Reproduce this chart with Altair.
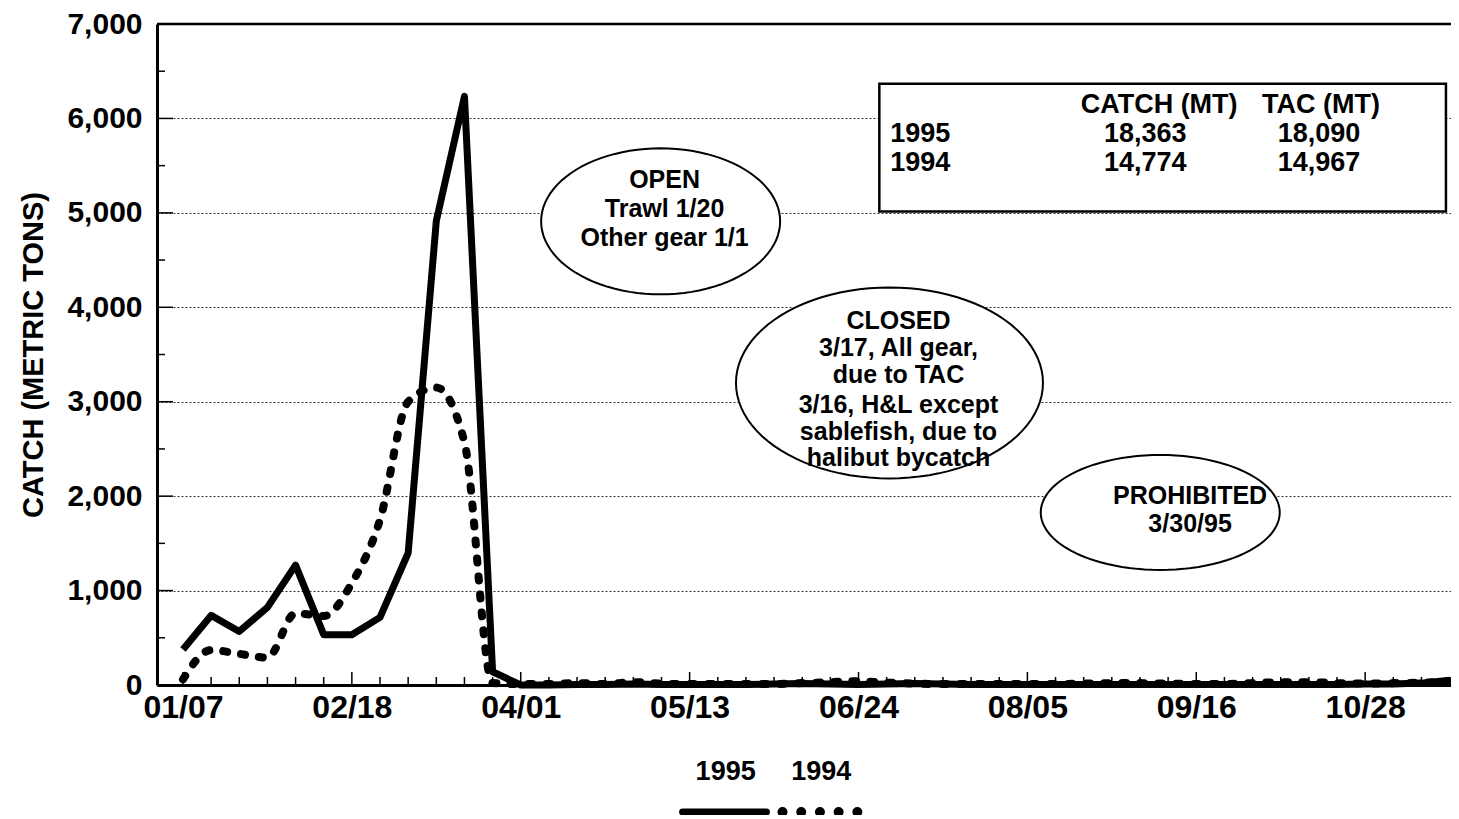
import json
import numpy as np
import pandas as pd
import altair as alt

# ---------------- data ----------------
week_dates = list(pd.date_range("1995-01-07", periods=46, freq="7D").strftime("%m/%d"))
axis_labels = ["01/07", "02/18", "04/01", "05/13", "06/24", "08/05", "09/16", "10/28"]
y_ticks = [0, 1000, 2000, 3000, 4000, 5000, 6000, 7000]
y_minor = [500, 1500, 2500, 3500, 4500, 5500, 6500]

catch_1995 = [375, 737, 567, 822, 1270, 533, 533, 716, 1398, 4913, 6233, 140,
              0, 0, 5, 5, 10, 5, 5, 5, 5, 10, 15, 10, 5, 10, 15, 10, 5, 5,
              5, 5, 5, 5, 5, 5, 5, 5, 5, 5, 5, 5, 10, 10, 20, 50]
catch_1994 = [60, 370, 330, 290, 760, 730, 1080, 1750, 3000, 3150, 2570, 20,
              10, 10, 20, 10, 30, 15, 10, 10, 10, 10, 20, 30, 40, 25, 15, 10, 10, 10,
              10, 10, 15, 20, 20, 15, 10, 10, 20, 30, 30, 20, 15, 20, 25, 40]

table_header = ["CATCH (MT)", "TAC (MT)"]
table_years = ["1995", "1994"]
table_catch = ["18,363", "14,774"]
table_tac = ["18,090", "14,967"]

open_lines = ["OPEN", "Trawl 1/20", "Other gear 1/1"]
closed_lines = ["CLOSED", "3/17, All gear,", "due to TAC", "3/16, H&L except",
                "sablefish, due to", "halibut bycatch"]
prohib_lines = ["PROHIBITED", "3/30/95"]

n = len(week_dates)
series = pd.DataFrame({
    "week": list(range(n)) * 2,
    "date": week_dates * 2,
    "series": ["1995"] * n + ["1994"] * n,
    "value": catch_1995 + catch_1994,
})

FONT = "Liberation Sans"
X_SCALE = alt.Scale(domain=[-0.923, 45.05], nice=False, zero=False)
Y_SCALE = alt.Scale(domain=[0, 7000], nice=False, zero=False)
W, H = 1294, 661

x_label_expr = json.dumps(axis_labels) + "[round(datum.value / 6)]"
x_axis = alt.Axis(values=[6 * i for i in range(len(axis_labels))], labelExpr=x_label_expr,
                  ticks=False, grid=False, domainWidth=3, domainColor="black",
                  labelFont=FONT, labelFontSize=32, labelFontWeight="bold",
                  labelColor="black", labelPadding=7, title="")
y_axis = alt.Axis(values=y_ticks, labelExpr="format(datum.value, ',')", ticks=False,
                  grid=True, gridDash=[2, 2],
                  gridColor="#333333", gridWidth=1, domainWidth=3, domainColor="black",
                  labelFont=FONT, labelFontSize=30, labelFontWeight="bold",
                  labelColor="black", labelPadding=15,
                  title="CATCH (METRIC TONS)", titleFont=FONT, titleFontSize=29,
                  titleFontWeight="bold", titleColor="black",
                  titleX=-124, titleY=H / 2, titleBaseline="middle")


def X(field="week"):
    return alt.X(f"{field}:Q", scale=X_SCALE, axis=x_axis)


def Y(field="value"):
    return alt.Y(f"{field}:Q", scale=Y_SCALE, axis=y_axis)


line95 = alt.Chart(series).transform_filter("datum.series == '1995'").mark_line(
    color="black", strokeWidth=7, strokeJoin="round"
).encode(x=X(), y=Y())

line94 = alt.Chart(series).transform_filter("datum.series == '1994'").mark_line(
    color="black", strokeWidth=8, strokeDash=[4, 14], strokeCap="round", interpolate="monotone"
).encode(x=X(), y=Y())

# top border line at 7,000
top_rule = alt.Chart(pd.DataFrame({"value": [7000]})).mark_rule(
    color="black", strokeWidth=2.5).encode(y=Y())

# inward ticks
xt = pd.DataFrame({"week": list(range(n))})
xt["major"] = xt["week"] % 6 == 0
x_minor_ticks = alt.Chart(xt[~xt["major"]]).mark_rule(color="black", strokeWidth=1.5).encode(
    x=X(), y=alt.value(H), y2=alt.value(H - 8))
x_major_ticks = alt.Chart(xt[xt["major"]]).mark_rule(color="black", strokeWidth=1.5).encode(
    x=X(), y=alt.value(H), y2=alt.value(H - 13))
y_major_ticks = alt.Chart(pd.DataFrame({"value": y_ticks[1:-1]})).mark_rule(
    color="black", strokeWidth=1.5).encode(y=Y(), x=alt.value(0), x2=alt.value(16))
y_minor_ticks = alt.Chart(pd.DataFrame({"value": y_minor})).mark_rule(
    color="black", strokeWidth=1.5).encode(y=Y(), x=alt.value(0), x2=alt.value(8))

# table box
table_box = alt.Chart(pd.DataFrame({"week": [24.74], "week2": [44.87],
                                    "value": [6367], "value2": [5015]})).mark_rect(
    fill="white", stroke="black", strokeWidth=2.5
).encode(x=X(), x2="week2:Q", y=Y(), y2="value2:Q")

table_center = pd.DataFrame({
    "week": [34.68, 40.43, 34.19, 40.36, 34.19, 40.36],
    "value": [6145, 6145, 5839, 5839, 5533, 5533],
    "text": [table_header[0], table_header[1], table_catch[0], table_tac[0],
             table_catch[1], table_tac[1]],
})
table_left = pd.DataFrame({"week": [25.13, 25.13], "value": [5839, 5533], "text": table_years})
table_text_c = alt.Chart(table_center).mark_text(
    font=FONT, fontSize=27, fontWeight="bold", align="center", baseline="middle", color="black"
).encode(x=X(), y=Y(), text="text:N")
table_text_l = alt.Chart(table_left).mark_text(
    font=FONT, fontSize=27, fontWeight="bold", align="left", baseline="middle", color="black"
).encode(x=X(), y=Y(), text="text:N")

# ellipses
t = np.linspace(0, 2 * np.pi, 97)


def ellipse_path(aspect):
    pts = [f"{np.cos(a):.4f},{aspect * np.sin(a):.4f}" for a in t]
    return "M" + " L".join(pts) + " Z"


ell = pd.DataFrame({
    "week": [16.97, 25.10, 34.72],
    "value": [4910, 3199, 1827],
    "w": [239, 307, 239],
    "h": [146, 191, 115],
})
ell["shape"] = [ellipse_path(h / w) for w, h in zip(ell["w"], ell["h"])]
ell["size"] = ell["w"] ** 2
ellipses = alt.Chart(ell).mark_point(
    filled=True, fill="white", stroke="black", strokeWidth=2, opacity=1
).encode(x=X(), y=Y(), shape=alt.Shape("shape:N", scale=None, legend=None),
         size=alt.Size("size:Q", scale=None, legend=None))

ann = pd.DataFrame({
    "week": [17.11] * 3 + [25.42] * 6 + [35.78] * 2,
    "value": [5343, 5036, 4730, 3854, 3569, 3284, 2967, 2682, 2407, 2006, 1700],
    "text": open_lines + closed_lines + prohib_lines,
})
ann_text = alt.Chart(ann).mark_text(
    font=FONT, fontSize=25, fontWeight="bold", align="center", baseline="middle", color="black"
).encode(x=X(), y=Y(), text="text:N")

# legend (below the axis)
leg_text = alt.Chart(pd.DataFrame({"week": [19.28, 22.68], "value": [-920, -920],
                                   "text": ["1995", "1994"]})).mark_text(
    font=FONT, fontSize=27, fontWeight="bold", align="center", baseline="middle", color="black"
).encode(x=X(), y=Y(), text="text:N")
leg_solid = alt.Chart(pd.DataFrame({"week": [17.75], "week2": [20.73], "value": [-1345]})).mark_rule(
    color="black", strokeWidth=7, strokeCap="round").encode(x=X(), x2="week2:Q", y=Y())
leg_dots = alt.Chart(pd.DataFrame({"week": [21.30], "week2": [23.98], "value": [-1345]})).mark_rule(
    color="black", strokeWidth=10, strokeCap="round", strokeDash=[0.01, 18.7]).encode(
    x=X(), x2="week2:Q", y=Y())

chart = alt.layer(
    line95, line94, top_rule, x_minor_ticks, x_major_ticks, y_major_ticks, y_minor_ticks,
    table_box, table_text_c, table_text_l, ellipses, ann_text, leg_text, leg_solid, leg_dots
).properties(
    width=W, height=H,
    padding={"left": 149, "top": 16, "right": 0, "bottom": 130},
    autosize=alt.AutoSizeParams(type="none"),
).configure(font=FONT).configure_view(stroke=None)

chart.save("out.html", embed_options={"renderer": "svg", "actions": False})
